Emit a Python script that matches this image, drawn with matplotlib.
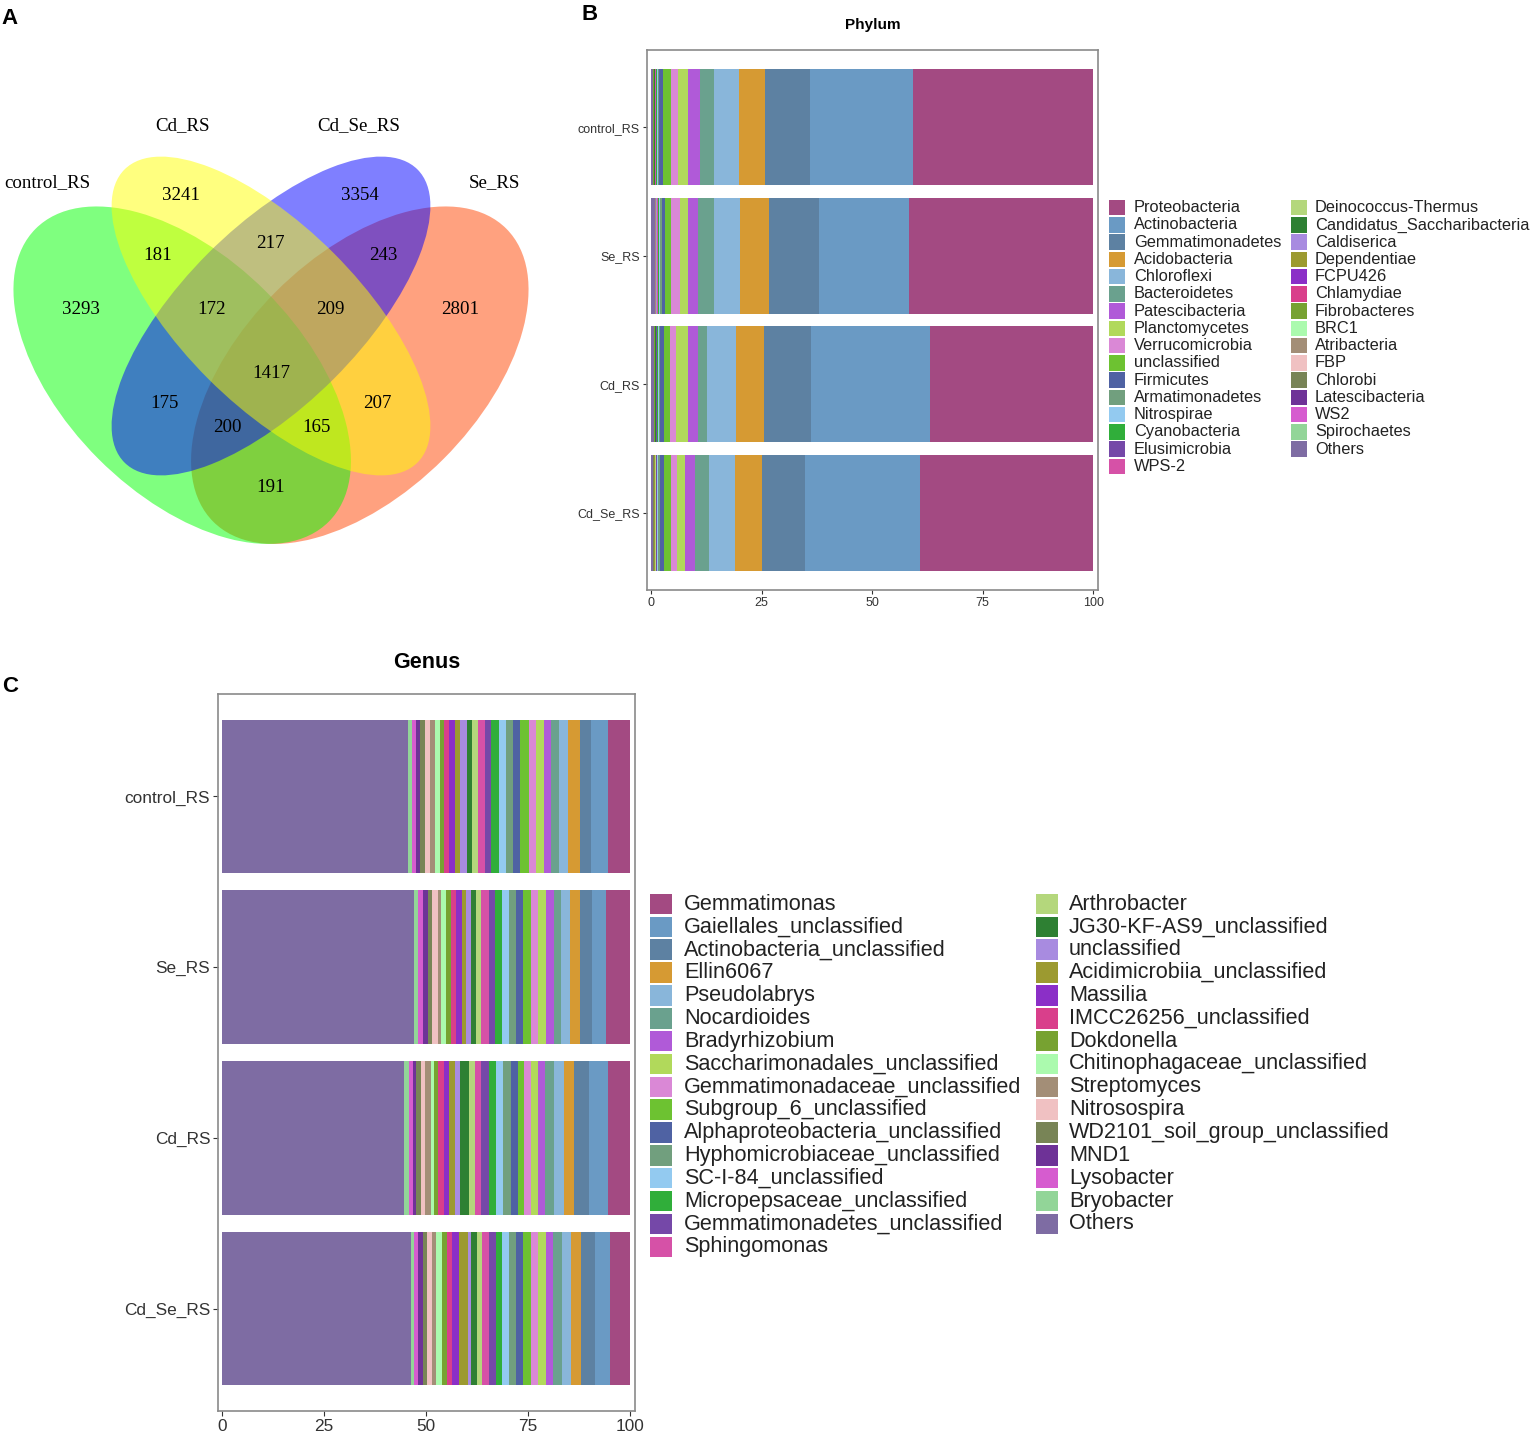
import numpy as np
import matplotlib
matplotlib.use("Agg")
import matplotlib.pyplot as plt
from matplotlib.patches import Ellipse, Rectangle

plt.rcParams['font.family'] = ['Liberation Sans', 'DejaVu Sans']

W, H = 1535, 1438

# ---------------- data ----------------
samples = ["control_RS", "Se_RS", "Cd_RS", "Cd_Se_RS"]

venn_sets = ["control_RS", "Cd_RS", "Cd_Se_RS", "Se_RS"]
venn_counts = [3241, 3354, 181, 217, 243, 3293, 172, 209, 2801, 1417, 175, 207, 200, 165, 191]

phylum_names = ["Proteobacteria", "Actinobacteria", "Gemmatimonadetes", "Acidobacteria",
                "Chloroflexi", "Bacteroidetes", "Patescibacteria", "Planctomycetes",
                "Verrucomicrobia", "unclassified", "Firmicutes", "Armatimonadetes",
                "Nitrospirae", "Cyanobacteria", "Elusimicrobia", "WPS-2",
                "Deinococcus-Thermus", "Candidatus_Saccharibacteria", "Caldiserica",
                "Dependentiae", "FCPU426", "Chlamydiae", "Fibrobacteres", "BRC1",
                "Atribacteria", "FBP", "Chlorobi", "Latescibacteria", "WS2",
                "Spirochaetes", "Others"]

phylum_control = [40.7, 23.3, 10.1, 6.1, 5.6, 3.2, 2.7, 2.2, 1.5, 1.8, 0.9, 0.35, 0.25, 0.15,
                  0.12, 0.10, 0.08, 0.07, 0.05, 0.05, 0.04, 0.04, 0.03, 0.03, 0.03, 0.03,
                  0.03, 0.02, 0.02, 0.02, 0.40]
phylum_se = [41.6, 20.5, 11.1, 6.6, 6.0, 3.5, 2.3, 1.8, 2.1, 1.3, 0.8, 0.35, 0.25, 0.15,
             0.12, 0.10, 0.08, 0.07, 0.05, 0.05, 0.04, 0.04, 0.03, 0.03, 0.03, 0.03,
             0.03, 0.02, 0.02, 0.02, 0.90]
phylum_cd = [36.8, 27.1, 10.5, 6.4, 6.6, 2.0, 2.3, 2.6, 1.3, 1.4, 0.9, 0.35, 0.25, 0.15,
             0.12, 0.10, 0.08, 0.07, 0.05, 0.05, 0.04, 0.04, 0.03, 0.03, 0.03, 0.03,
             0.03, 0.02, 0.02, 0.02, 0.60]
phylum_cdse = [39.1, 26.1, 9.8, 6.1, 5.7, 3.3, 2.2, 1.8, 1.4, 1.5, 1.0, 0.35, 0.25, 0.15,
               0.12, 0.10, 0.08, 0.07, 0.05, 0.05, 0.04, 0.04, 0.03, 0.03, 0.03, 0.03,
               0.03, 0.02, 0.02, 0.02, 0.50]

genus_names = ["Gemmatimonas", "Gaiellales_unclassified", "Actinobacteria_unclassified",
               "Ellin6067", "Pseudolabrys", "Nocardioides", "Bradyrhizobium",
               "Saccharimonadales_unclassified", "Gemmatimonadaceae_unclassified",
               "Subgroup_6_unclassified", "Alphaproteobacteria_unclassified",
               "Hyphomicrobiaceae_unclassified", "SC-I-84_unclassified",
               "Micropepsaceae_unclassified", "Gemmatimonadetes_unclassified", "Sphingomonas",
               "Arthrobacter", "JG30-KF-AS9_unclassified", "unclassified",
               "Acidimicrobiia_unclassified", "Massilia", "IMCC26256_unclassified",
               "Dokdonella", "Chitinophagaceae_unclassified", "Streptomyces", "Nitrosospira",
               "WD2101_soil_group_unclassified", "MND1", "Lysobacter", "Bryobacter", "Others"]

genus_control = [5.4, 4.1, 2.8, 2.8, 2.3, 2.0, 1.6, 2.1, 1.8, 2.0, 1.8, 1.7, 1.8, 1.9, 1.5,
                 1.7, 1.5, 1.2, 1.7, 1.2, 1.5, 1.1, 1.1, 1.3, 1.2, 1.2, 1.1, 1.1, 1.0, 0.9, 45.6]
genus_se = [5.9, 3.5, 2.9, 2.4, 2.3, 1.6, 2.0, 1.9, 1.9, 1.8, 1.7, 1.7, 1.7, 1.8, 1.6,
            1.8, 1.2, 1.3, 1.1, 1.2, 1.4, 1.1, 1.2, 1.3, 0.8, 1.5, 1.0, 1.1, 1.2, 1.0, 47.1]
genus_cd = [5.5, 4.5, 3.7, 2.4, 2.5, 2.2, 1.7, 1.8, 1.6, 1.6, 1.8, 1.9, 1.6, 1.8, 1.9,
            1.5, 1.6, 2.2, 1.2, 1.5, 1.1, 1.4, 1.1, 0.8, 1.3, 1.0, 1.2, 0.9, 1.0, 1.0, 44.7]
genus_cdse = [4.9, 3.7, 3.4, 2.5, 2.2, 2.2, 1.8, 1.8, 1.9, 1.8, 1.8, 1.7, 1.6, 1.5, 1.7,
              1.7, 1.4, 1.4, 0.8, 2.2, 1.6, 1.3, 1.2, 1.4, 1.1, 1.1, 1.1, 1.1, 1.0, 0.9, 46.2]

palette = ["#A34A82", "#6A9AC4", "#5D81A2", "#D69A33", "#89B6DA", "#6AA18E", "#B05AD8",
           "#B1D95B", "#DA88D6", "#6DC231", "#4F62A3", "#719F7E", "#93CAF0", "#30AE3A",
           "#7548A8", "#D651A7", "#B4D77C", "#2E8033", "#A88BE0", "#9C9A30", "#8B2FC7",
           "#D93F8B", "#77A231", "#ABFAAE", "#A38E77", "#F0C1C2", "#788456", "#6E3297",
           "#D65CCF", "#92D598", "#7E6CA3"]


def box(x0, y0, x1, y1):
    return [x0 / W, 1 - y1 / H, (x1 - x0) / W, (y1 - y0) / H]


fig = plt.figure(figsize=(W / 100, H / 100), dpi=100)

# ---------------- A: Venn ----------------
axv = fig.add_axes(box(0, 50, 560, 610))
axv.set_xlim(0.5 + (0 - 271) / 592, 0.5 + (560 - 271) / 592)
axv.set_ylim(0.57 - (610 - 316) / 592, 0.57 - (50 - 316) / 592)
axv.axis("off")

# drawing order gives the same blends as the reference
ell = [((0.65, 0.47), 0.70, 0.40, 45, "#FF4500"),
       ((0.35, 0.47), 0.70, 0.40, -45, "#00FF00"),
       ((0.50, 0.57), 0.70, 0.30, 45, "#0000FF"),
       ((0.50, 0.57), 0.70, 0.30, -45, "#FFFF00")]
for c, w, h, a, col in ell:
    axv.add_patch(Ellipse(c, w, h, angle=a, facecolor=col, alpha=0.5, lw=0))


def vpos(px, py):
    return 0.5 + (px - 271) / 592, 0.57 - (py - 316) / 592


count_pos = [(181, 196), (360, 196), (158, 256), (270.5, 244), (383, 256), (81, 309),
             (212, 309), (330, 309), (460, 309), (271, 374), (164, 404), (377, 404),
             (227, 428), (316, 428), (270.5, 487.5)]
for n, (px, py) in zip(venn_counts, count_pos):
    axv.text(*vpos(px, py), str(n), ha="center", va="center", fontsize=13.6,
             family="Liberation Serif")
set_pos = [(47, 183), (182, 126), (359, 126), (494, 183)]
for s, (px, py) in zip(venn_sets, set_pos):
    axv.text(*vpos(px, py), s, ha="center", va="center", fontsize=13.6,
             family="Liberation Serif")


# ---------------- stacked bars ----------------
def stacked(ax, data, label_size, tick_len):
    data = np.array(data)
    cum = np.cumsum(data, axis=1)
    y = np.arange(len(samples))
    for j in range(data.shape[1]):
        ax.barh(y, data[:, j], left=100 - cum[:, j], height=0.9, color=palette[j], lw=0)
    ax.set_yticks(y)
    ax.set_yticklabels(samples)
    ax.set_ylim(3.6, -0.6)
    ax.set_xticks([0, 25, 50, 75, 100])
    for sp in ax.spines.values():
        sp.set_color("#8a8a8a")
        sp.set_linewidth(1.2)
    ax.tick_params(labelsize=label_size, colors="#333333", length=tick_len, width=0.8, pad=2)


axp = fig.add_axes(box(647, 50, 1098, 590))
stacked(axp, [phylum_control, phylum_se, phylum_cd, phylum_cdse], 9, 3)
axp.set_xlim(-0.9, 101.1)

axg = fig.add_axes(box(218, 694, 635, 1411))
stacked(axg, [genus_control, genus_se, genus_cd, genus_cdse], 12.4, 3.6)
axg.set_xlim(-1.0, 101.2)

# ---------------- overlay: titles, labels, legends ----------------
ov = fig.add_axes([0, 0, 1, 1])
ov.set_xlim(0, W)
ov.set_ylim(H, 0)
ov.axis("off")

for t, x, y in [("A", 10, 18), ("B", 590, 15), ("C", 10, 686)]:
    ov.text(x, y, t, fontsize=16, fontweight="bold", ha="center", va="center")
ov.text(872.5, 25, "Phylum", fontsize=11, fontweight="bold", ha="center", va="center")
ov.text(426.5, 662, "Genus", fontsize=15.5, fontweight="bold", ha="center", va="center")


def legend(names, cols, y0, dy, sq_w, sq_h, fs):
    for i, (nm, col) in enumerate(zip(names, palette)):
        c = 0 if i < 16 else 1
        r = i if i < 16 else i - 16
        xs, xt = cols[c]
        yc = y0 + r * dy
        ov.add_patch(Rectangle((xs, yc - sq_h / 2), sq_w, sq_h, facecolor=palette[i], lw=0))
        ov.text(xt, yc, nm, fontsize=fs, ha="left", va="center", color="#222222")


legend(phylum_names, [(1109, 1134), (1291, 1315)], 207.7, 17.25, 16, 15.5, 11.8)
legend(genus_names, [(650, 684), (1036, 1069)], 904, 22.85, 21.5, 20.5, 15.6)

fig.savefig("out.png", dpi=100)
